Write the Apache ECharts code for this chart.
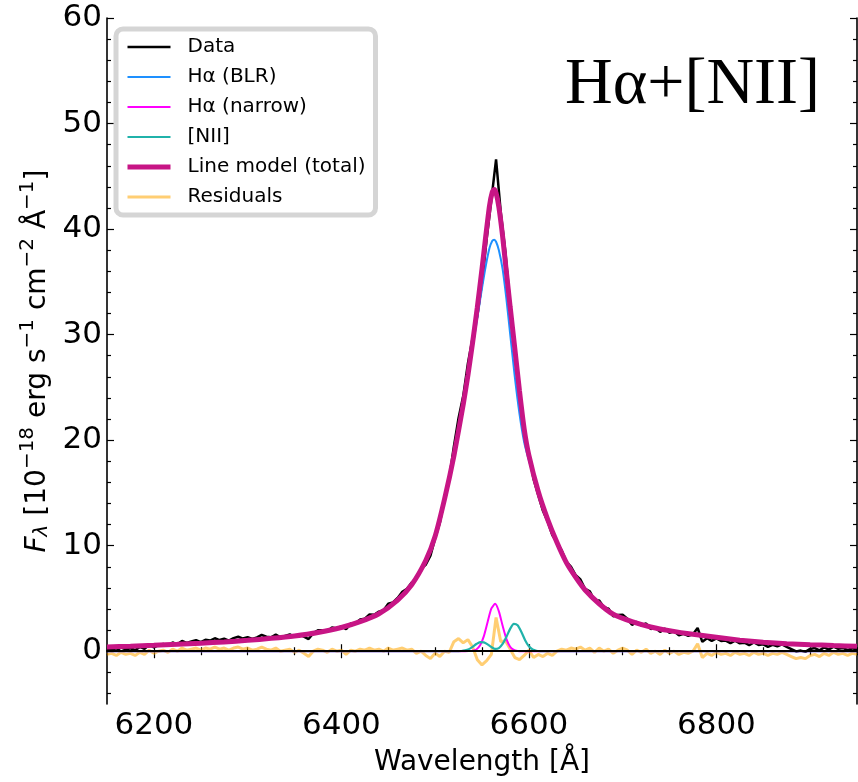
<!DOCTYPE html>
<html>
<head>
<meta charset="utf-8">
<script src="https://cdn.jsdelivr.net/npm/echarts@6/dist/echarts.min.js"></script>
<style>
  html, body { margin: 0; padding: 0; background: #fff; }
  #chart { width: 858px; height: 782px; }
</style>
</head>
<body>
<div id="chart"></div>
<script>
// Observed spectrum and fit residuals, sampled every 5 Å from 6150 Å
const waveStart = 6150;
const waveStep = 5;
const dataFlux = [
  0.11, 0.22, 0.04, 0.35, 0.17, 0.28, 0.10, 0.41, 0.23, 0.64,
  0.36, 0.58, 0.70, 0.51, 0.83, 0.65, 0.97, 0.79, 0.92, 1.04,
  0.86, 1.08, 1.01, 1.23, 1.06, 1.18, 1.01, 1.24, 1.37, 1.20,
  1.33, 1.17, 1.31, 1.54, 1.38, 1.32, 1.57, 1.31, 1.46, 1.60,
  1.35, 1.62, 1.38, 1.15, 1.71, 1.98, 1.98, 1.87, 2.26, 2.16,
  2.35, 2.09, 2.62, 2.66, 3.00, 3.09, 3.48, 3.46, 3.75, 3.88,
  4.50, 4.63, 5.05, 5.63, 5.92, 6.50, 6.87, 7.83, 8.20, 9.05,
  10.7, 12.15, 14.4, 16.35, 19.4, 22.1, 24.2, 27.3, 29.7, 31.8,
  34.9, 39.1, 42.8, 46.6, 41.6, 37.8, 32.9, 28.1, 23.9, 20.65,
  18.7, 16.3, 14.8, 13.3, 12.3, 11.0, 10.3, 9.55, 8.5, 8.0,
  7.2, 6.8, 5.9, 5.67, 4.83, 4.8, 4.17, 4.03, 3.3, 3.43,
  3.45, 3.08, 2.5, 2.78, 2.45, 2.63, 2.1, 2.21, 1.83, 2.14,
  1.75, 1.88, 1.51, 1.64, 1.47, 1.6, 2.2, 0.89, 1.23, 0.98,
  1.22, 0.97, 1.01, 0.76, 1.0, 0.75, 0.81, 0.57, 0.83, 0.59,
  0.65, 0.42, 0.6, 0.47, 0.65, 0.42, 0.2, -0.02, 0.06, -0.06,
  0.22, 0.3, 0.09, 0.37, 0.16, 0.44, 0.23, 0.31, 0.1, 0.28,
  0.17
];
const residualFlux = [
  -0.3, -0.2, -0.4, -0.1, -0.3, -0.2, -0.4, -0.1, -0.3, 0.1,
  -0.2, 0.0, 0.1, -0.1, 0.2, 0.0, 0.3, 0.1, 0.2, 0.3,
  0.1, 0.3, 0.2, 0.4, 0.2, 0.3, 0.1, 0.3, 0.4, 0.2,
  0.3, 0.1, 0.2, 0.4, 0.2, 0.1, 0.3, 0.0, 0.1, 0.2,
  -0.1, 0.1, -0.2, -0.5, 0.0, 0.2, 0.1, -0.1, 0.2, 0.0,
  0.1, -0.3, 0.1, 0.0, 0.2, 0.1, 0.3, 0.1, 0.2, 0.0,
  0.3, 0.1, 0.2, 0.3, 0.1, 0.2, -0.2, 0.0, -0.4, -0.7,
  -0.2, -0.5, 0.0, -0.1, 0.9, 1.2, 0.8, 1.1, 0.4, -0.8,
  -1.3, -0.9, -0.3, 3.2, 0.9, 1.0, 0.2, -0.6, -0.8, -0.4,
  0.1, -0.6, -0.3, -0.5, -0.2, -0.4, 0.0, 0.2, 0.1, 0.3,
  0.2, 0.4, 0.1, 0.3, -0.1, 0.3, 0.0, 0.2, -0.2, 0.1,
  0.3, 0.1, -0.3, 0.1, -0.1, 0.2, -0.2, 0.0, -0.3, 0.1,
  -0.2, 0.0, -0.3, -0.1, -0.2, 0.0, 0.7, -0.6, -0.2, -0.4,
  -0.1, -0.3, -0.2, -0.4, -0.1, -0.3, -0.2, -0.4, -0.1, -0.3,
  -0.2, -0.4, -0.2, -0.3, -0.1, -0.3, -0.5, -0.7, -0.6, -0.7,
  -0.4, -0.3, -0.5, -0.2, -0.4, -0.1, -0.3, -0.2, -0.4, -0.2,
  -0.3
];

// Fitted broad Hα and total line model
const modelWave = [
  6150, 6175, 6200, 6225, 6250, 6275, 6300, 6325, 6350, 6375,
  6400, 6420, 6440, 6460, 6475, 6490, 6500, 6510, 6520, 6530,
  6535, 6540, 6545, 6550, 6554, 6558, 6561, 6563, 6565, 6568,
  6572, 6576, 6580, 6585, 6590, 6595, 6600, 6610, 6620, 6630,
  6640, 6650, 6660, 6675, 6690, 6710, 6730, 6750, 6775, 6800,
  6825, 6850, 6875, 6900, 6925, 6950
];
const blrFlux = [
  0.41, 0.48, 0.56, 0.65, 0.76, 0.88, 1.03, 1.22, 1.45, 1.78,
  2.25, 2.80, 3.55, 4.85, 6.3, 8.6, 10.9, 14.4, 18.5, 23.35,
  26.0, 28.8, 31.6, 34.4, 36.5, 38.2, 38.9, 39.0, 38.8, 38.0,
  36.2, 33.4, 30.1, 26.0, 22.5, 19.8, 18.1, 15.1, 12.5, 10.3,
  8.4, 7.0, 5.8, 4.5, 3.5, 2.8, 2.3, 1.95, 1.6, 1.32,
  1.05, 0.85, 0.72, 0.62, 0.54, 0.47
];
const totalFlux = [
  0.41, 0.48, 0.56, 0.65, 0.76, 0.88, 1.03, 1.22, 1.45, 1.78,
  2.25, 2.80, 3.55, 4.85, 6.3, 8.6, 10.9, 14.4, 18.5, 23.4,
  26.17, 29.26, 32.58, 36.23, 39.33, 42.2, 43.51, 43.76, 43.42, 42.08,
  39.3, 35.92, 32.65, 28.69, 24.65, 21.05, 18.57, 15.13, 12.5, 10.3,
  8.4, 7.0, 5.8, 4.5, 3.5, 2.8, 2.3, 1.95, 1.6, 1.32,
  1.05, 0.85, 0.72, 0.62, 0.54, 0.47
];

// Narrow components: Hα narrow and the [NII] doublet
const narrowWave = [
  6150, 6520, 6524, 6528, 6532, 6536, 6540, 6544, 6548, 6552,
  6556, 6560, 6564, 6568, 6572, 6576, 6580, 6584, 6588, 6592,
  6596, 6600, 6604, 6608, 6612, 6616, 6620, 6950
];
const haNarrowFlux = [
  0, 0, 0, 0, 0, 0.01, 0.04, 0.17, 0.56, 1.43,
  2.77, 4.05, 4.49, 3.78, 2.41, 1.17, 0.43, 0.12, 0.03, 0,
  0, 0, 0, 0, 0, 0, 0, 0
];
const niiFlux = [
  0, 0, 0.01, 0.02, 0.08, 0.2, 0.42, 0.68, 0.86, 0.84,
  0.65, 0.4, 0.22, 0.3, 0.69, 1.35, 2.12, 2.59, 2.46, 1.83,
  1.05, 0.47, 0.17, 0.05, 0.01, 0, 0, 0
];

// Axis ticks
const xMajorTicks = [6200, 6400, 6600, 6800];
const yMajorTicks = [0, 10, 20, 30, 40, 50, 60];

const xMin = 6150, xMax = 6950, yMin = -5, yMax = 60;
const xMinorTicks = [];
for (let v = xMin; v <= xMax; v += 50) if (xMajorTicks.indexOf(v) < 0) xMinorTicks.push(v);
const yMinorTicks = [];
for (let v = -4; v <= yMax; v += 2) if (yMajorTicks.indexOf(v) < 0) yMinorTicks.push(v);

const pairs = (xs, ys) => ys.map((y, i) => [xs[i], y]);
const gridPairs = ys => ys.map((y, i) => [waveStart + waveStep * i, y]);

const FONT = 'DejaVu Sans';
const tickFont = { fontFamily: FONT, fontSize: 31, color: '#000', formatter: v => String(v) };

// Line colours and widths per component
const styles = {
  'Data': { color: '#000000', width: 2.5 },
  'Hα (BLR)': { color: '#1e90ff', width: 2 },
  'Hα (narrow)': { color: '#ff00ff', width: 2 },
  '[NII]': { color: '#20b2aa', width: 2.2 },
  'Line model (total)': { color: '#c71585', width: 5 },
  'Residuals': { color: 'rgba(255,165,0,0.55)', width: 3 }
};
const legendOrder = ['Data', 'Hα (BLR)', 'Hα (narrow)', '[NII]', 'Line model (total)', 'Residuals'];

function xAxisDef(position, ticks, len, withLabels) {
  const ax = {
    type: 'value', position: position, min: xMin, max: xMax,
    axisLine: { show: withLabels, lineStyle: { color: '#000', width: 1.6 } },
    axisTick: { show: true, inside: true, length: len, customValues: ticks,
                lineStyle: { color: '#000', width: 1.2 } },
    axisLabel: { show: false },
    splitLine: { show: false }
  };
  if (withLabels && position === 'bottom') {
    ax.axisLabel = Object.assign({ show: true, margin: 6, customValues: xMajorTicks }, tickFont);
    ax.name = 'Wavelength [Å]';
    ax.nameLocation = 'middle';
    ax.nameGap = 45;
    ax.nameTextStyle = { fontFamily: FONT, fontSize: 28, color: '#000' };
  }
  return ax;
}

function yAxisDef(position, ticks, len, withLabels) {
  const ax = {
    type: 'value', position: position, min: yMin, max: yMax,
    axisLine: { show: withLabels, onZero: false, lineStyle: { color: '#000', width: 1.6 } },
    axisTick: { show: true, inside: true, length: len, customValues: ticks,
                lineStyle: { color: '#000', width: 1.2 } },
    axisLabel: { show: false },
    splitLine: { show: false }
  };
  if (withLabels && position === 'left') {
    ax.axisLabel = Object.assign({ show: true, margin: 5, customValues: yMajorTicks }, tickFont);
    ax.name = '{it|F}{sub|λ}{b| [10}{sup|−18}{b| erg s}{sup|−1}{b| cm}{sup|−2}{b| Å}{sup|−1}{b|]}';
    ax.nameLocation = 'middle';
    ax.nameRotate = 90;
    ax.nameGap = 55;
    ax.nameTextStyle = {
      color: '#000',
      rich: {
        b: { fontFamily: FONT, fontSize: 28, color: '#000', lineHeight: 34, verticalAlign: 'bottom' },
        it: { fontFamily: FONT, fontStyle: 'italic', fontSize: 28, color: '#000', lineHeight: 34, verticalAlign: 'bottom' },
        sup: { fontFamily: FONT, fontSize: 20, color: '#000', lineHeight: 20, verticalAlign: 'top' },
        sub: { fontFamily: FONT, fontStyle: 'italic', fontSize: 20, color: '#000', lineHeight: 20, verticalAlign: 'bottom' }
      }
    };
  }
  return ax;
}

function lineSeries(name, points, z, smooth) {
  const s = styles[name];
  return {
    name: name, type: 'line', data: points,
    showSymbol: false, symbol: 'none', z: z, smooth: smooth,
    lineStyle: { color: s.color, width: s.width },
    itemStyle: { color: s.color }
  };
}

const chart = echarts.init(document.getElementById('chart'), null, { renderer: 'canvas' });

const residualSeries = lineSeries('Residuals', gridPairs(residualFlux), 2, false);
residualSeries.markLine = {
  silent: true, symbol: ['none', 'none'], label: { show: false },
  lineStyle: { color: '#000', width: 2, type: 'solid' },
  data: [{ yAxis: 0 }]
};

chart.setOption({
  animation: false,
  backgroundColor: '#fff',
  grid: { left: 107, right: 1, top: 18, bottom: 78, containLabel: false },
  xAxis: [
    xAxisDef('bottom', xMajorTicks, 7, true),
    xAxisDef('bottom', xMinorTicks, 4, false),
    xAxisDef('top', xMajorTicks, 7, true),
    xAxisDef('top', xMinorTicks, 4, false)
  ],
  yAxis: [
    yAxisDef('left', yMajorTicks, 7, true),
    yAxisDef('left', yMinorTicks, 4, false),
    yAxisDef('right', yMajorTicks, 7, true),
    yAxisDef('right', yMinorTicks, 4, false)
  ],
  legend: {
    left: 116, top: 29,
    orient: 'vertical',
    data: legendOrder.map(n => ({
      name: n,
      lineStyle: { color: styles[n].color, width: styles[n].width }
    })),
    itemWidth: 43, itemHeight: 14, itemGap: 10,
    padding: [8, 10, 8, 9],
    backgroundColor: '#fff',
    borderColor: '#d5d5d5', borderWidth: 5, borderRadius: 7,
    itemStyle: { opacity: 0 },
    textStyle: { fontFamily: FONT, fontSize: 20, color: '#000', lineHeight: 20, padding: [0, 0, 0, 12] }
  },
  graphic: [{
    type: 'text',
    x: 565, y: 86,
    style: {
      text: 'Hα+[NII]',
      font: '66px "Liberation Serif"',
      fill: '#000',
      textAlign: 'left',
      verticalAlign: 'middle'
    },
    z: 100
  }],
  series: [
    residualSeries,
    lineSeries('Data', gridPairs(dataFlux), 3, false),
    lineSeries('Hα (BLR)', pairs(modelWave, blrFlux), 4, 0.2),
    lineSeries('Hα (narrow)', pairs(narrowWave, haNarrowFlux), 4, 0.2),
    lineSeries('[NII]', pairs(narrowWave, niiFlux), 4, 0.2),
    lineSeries('Line model (total)', pairs(modelWave, totalFlux), 5, 0.2)
  ]
});
</script>
</body>
</html>
